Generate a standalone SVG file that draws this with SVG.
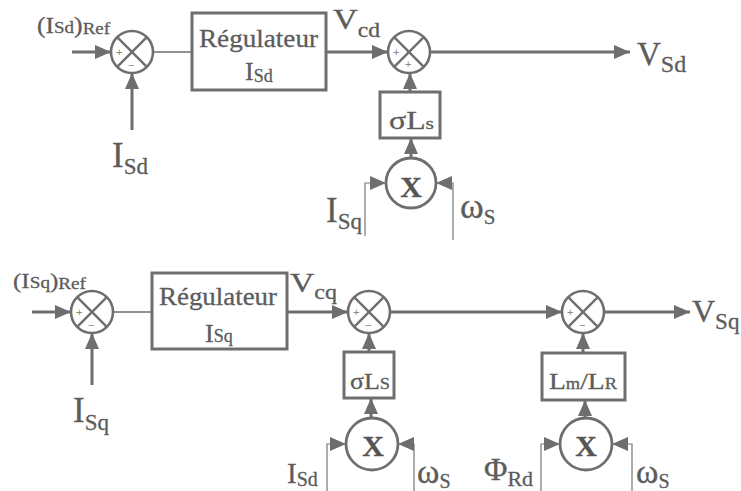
<svg xmlns="http://www.w3.org/2000/svg" width="741" height="491" viewBox="0 0 741 491">
<style>
.ln{fill:none;stroke:#6e6e6e;stroke-width:3}
.thin{fill:none;stroke:#6e6e6e;stroke-width:1.6}
.hair{fill:none;stroke:#777;stroke-width:1.2}
.box{fill:#fff;stroke:#6e6e6e;stroke-width:3}
.sum{fill:#fff;stroke:#6e6e6e;stroke-width:2.6}
.sx{stroke:#6e6e6e;stroke-width:2.4}
.mul{fill:#fff;stroke:#6e6e6e;stroke-width:2.8}
text{font-family:"Liberation Serif","Times New Roman",serif;fill:#5c5c5c;stroke:#5c5c5c;stroke-width:0.3}
.sg{font-family:"Liberation Sans",Arial,sans-serif;font-size:11px;fill:#888;stroke:none}
.xx{font-size:30px;font-weight:bold;text-anchor:middle;fill:#555}
</style>
<defs>
<marker id="ah" markerUnits="userSpaceOnUse" markerWidth="16" markerHeight="14" viewBox="0 0 16 14" refX="16" refY="7" orient="auto">
<path d="M0,0 L16,7 L0,14 z" fill="#6e6e6e"/>
</marker>
<g id="sj">
<circle r="21" class="sum"/>
<line x1="-14.8" y1="-14.8" x2="14.8" y2="14.8" class="sx"/>
<line x1="-14.8" y1="14.8" x2="14.8" y2="-14.8" class="sx"/>
</g>
</defs>

<g id="connectors">
<path class="ln" d="M72,52 H111" marker-end="url(#ah)"/>
<path class="ln" d="M132,130 V73" marker-end="url(#ah)"/>
<path class="thin" d="M153,52 H192"/>
<path class="ln" d="M326,52 H388" marker-end="url(#ah)"/>
<path class="ln" d="M430,52 H630" marker-end="url(#ah)"/>
<path class="ln" d="M410,92 V73" marker-end="url(#ah)"/>
<path class="ln" d="M411,158 V138" marker-end="url(#ah)"/>
<path class="hair" d="M365,236 V183 H386" marker-end="url(#ah)"/>
<path class="hair" d="M453,240 V183 H436" marker-end="url(#ah)"/>

<path class="ln" d="M32,312 H71" marker-end="url(#ah)"/>
<path class="ln" d="M92,385 V333" marker-end="url(#ah)"/>
<path class="thin" d="M113,312 H152"/>
<path class="ln" d="M287,312 H348" marker-end="url(#ah)"/>
<path class="ln" d="M390,312 H562" marker-end="url(#ah)"/>
<path class="ln" d="M604,312 H690" marker-end="url(#ah)"/>
<path class="ln" d="M369,352 V333" marker-end="url(#ah)"/>
<path class="ln" d="M371,418 V398" marker-end="url(#ah)"/>
<path class="hair" d="M327,491 V444 H346" marker-end="url(#ah)"/>
<path class="hair" d="M414,491 V444 H398" marker-end="url(#ah)"/>
<path class="ln" d="M583,353 V333" marker-end="url(#ah)"/>
<path class="ln" d="M585,418 V400" marker-end="url(#ah)"/>
<path class="hair" d="M541,491 V444 H560" marker-end="url(#ah)"/>
<path class="hair" d="M632,491 V444 H612" marker-end="url(#ah)"/>
</g>

<!-- top row -->
<g id="label-isd-ref">
<text x="37" y="33" textLength="73" lengthAdjust="spacingAndGlyphs"><tspan font-size="23">(I</tspan><tspan font-size="17">Sd</tspan><tspan font-size="23">)</tspan><tspan font-size="17" dy="1">Ref</tspan></text>
</g>
<g id="sum1">
<use href="#sj" x="132" y="52"/>
<text class="sg" x="116" y="56">+</text>
<text class="sg" x="128" y="69">−</text>
</g>
<g id="label-isd-fb">
<text x="112" y="167" font-size="35">I<tspan font-size="23" y="174">Sd</tspan></text>
</g>
<g id="reg-d">
<rect class="box" x="192" y="13" width="134" height="77"/>
<text x="199" y="47" font-size="25" textLength="119" lengthAdjust="spacingAndGlyphs">Régulateur</text>
<text x="245" y="80" font-size="26">I<tspan font-size="18" y="82">Sd</tspan></text>
</g>
<g id="label-vcd">
<text x="333" y="29" font-size="29" textLength="47" lengthAdjust="spacingAndGlyphs">V<tspan font-size="20" y="37">cd</tspan></text>
</g>
<g id="sum2">
<use href="#sj" x="409" y="52"/>
<text class="sg" x="393" y="56">+</text>
<text class="sg" x="405" y="68">+</text>
</g>
<g id="label-vsd">
<text x="637" y="65" font-size="33">V<tspan font-size="24" y="72">Sd</tspan></text>
</g>
<g id="sigma-ls-d">
<rect class="box" x="380" y="92" width="60" height="46"/>
<text x="389" y="129" font-size="25" textLength="45" lengthAdjust="spacingAndGlyphs">σL<tspan font-size="17">s</tspan></text>
</g>
<g id="mul-d">
<circle class="mul" cx="411" cy="183" r="25"/>
<text class="xx" x="411" y="197">X</text>
</g>
<g id="label-isq-top">
<text x="326" y="222" font-size="35">I<tspan font-size="23" y="229">Sq</tspan></text>
</g>
<g id="label-ws-top">
<text x="460" y="218" font-size="36">ω<tspan font-size="21" y="224">S</tspan></text>
</g>

<!-- bottom row -->
<g id="label-isq-ref">
<text x="13" y="288" textLength="73" lengthAdjust="spacingAndGlyphs"><tspan font-size="21">(I</tspan><tspan font-size="16">Sq</tspan><tspan font-size="21">)</tspan><tspan font-size="16" dy="1">Ref</tspan></text>
</g>
<g id="sum3">
<use href="#sj" x="92" y="312"/>
<text class="sg" x="76" y="316">+</text>
<text class="sg" x="88" y="329">−</text>
</g>
<g id="label-isq-fb">
<text x="73" y="422" font-size="35">I<tspan font-size="23" y="430">Sq</tspan></text>
</g>
<g id="reg-q">
<rect class="box" x="152" y="273" width="135" height="76"/>
<text x="159" y="305" font-size="25" textLength="118" lengthAdjust="spacingAndGlyphs">Régulateur</text>
<text x="205" y="342" font-size="26">I<tspan font-size="18">Sq</tspan></text>
</g>
<g id="label-vcq">
<text x="290" y="292" font-size="28" textLength="47" lengthAdjust="spacingAndGlyphs">V<tspan font-size="20" y="299">cq</tspan></text>
</g>
<g id="sum4">
<use href="#sj" x="369" y="312"/>
<text class="sg" x="353" y="316">+</text>
<text class="sg" x="365" y="329">−</text>
</g>
<g id="sum5">
<use href="#sj" x="583" y="312"/>
<text class="sg" x="567" y="316">+</text>
<text class="sg" x="579" y="329">−</text>
</g>
<g id="label-vsq">
<text x="692" y="322" font-size="32">V<tspan font-size="23" y="329">Sq</tspan></text>
</g>
<g id="sigma-ls-q">
<rect class="box" x="344" y="352" width="50" height="46"/>
<text x="350" y="389" font-size="24" textLength="40" lengthAdjust="spacingAndGlyphs">σL<tspan font-size="17">S</tspan></text>
</g>
<g id="mul-q1">
<circle class="mul" cx="372" cy="444" r="26"/>
<text class="xx" x="373" y="456">X</text>
</g>
<g id="label-isd-bot">
<text x="287" y="483" font-size="29">I<tspan font-size="20" y="486">Sd</tspan></text>
</g>
<g id="label-ws-mid">
<text x="417" y="483" font-size="34">ω<tspan font-size="20" y="488">S</tspan></text>
</g>
<g id="lm-lr">
<rect class="box" x="542" y="353" width="83" height="47"/>
<text x="549" y="389" font-size="24" textLength="68" lengthAdjust="spacingAndGlyphs">L<tspan font-size="16">m</tspan>/L<tspan font-size="16">R</tspan></text>
</g>
<g id="mul-q2">
<circle class="mul" cx="586" cy="444" r="26"/>
<text class="xx" x="586" y="456">X</text>
</g>
<g id="label-phird">
<text x="484" y="480" font-size="32">Φ<tspan font-size="22" y="486">Rd</tspan></text>
</g>
<g id="label-ws-right">
<text x="636" y="483" font-size="34">ω<tspan font-size="20" y="488">S</tspan></text>
</g>
</svg>
